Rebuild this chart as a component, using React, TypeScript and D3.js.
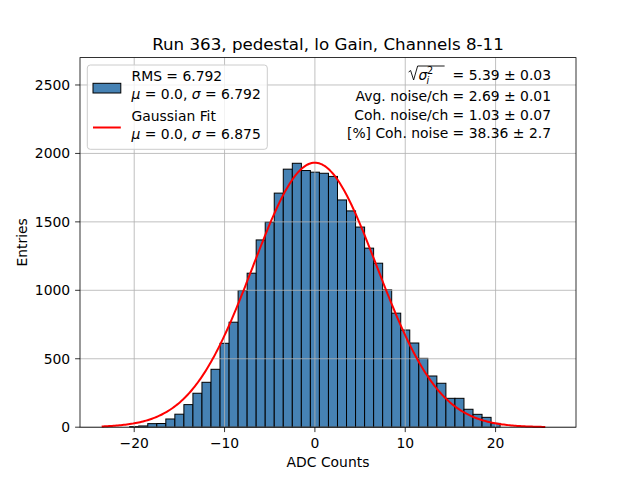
import React, { useEffect, useRef } from "react";
import * as d3 from "d3";

// Histogram bins (unit width, centred on integers) and counts
const binCenters = [
  -20, -19, -18, -17, -16, -15, -14, -13, -12, -11, -10, -9, -8, -7, -6, -5, -4,
  -3, -2, -1, 0, 1, 2, 3, 4, 5, 6, 7, 8, 9, 10, 11, 12, 13, 14, 15, 16, 17, 18,
  19, 20,
];
const binCounts = [
  5, 9, 26, 27, 60, 95, 165, 248, 328, 423, 613, 767, 998, 1125, 1368, 1498,
  1710, 1885, 1928, 1875, 1863, 1855, 1832, 1660, 1580, 1462, 1308, 1198, 1003,
  833, 710, 615, 503, 374, 321, 211, 211, 131, 94, 72, 28,
];
const binWidth = 1;

// Gaussian fit parameters
const fitMu = 0.0;
const fitSigma = 6.875;
const fitPeak = 1932;
const fitRange = [-23.6, 25.5];

const xTicks = [-20, -10, 0, 10, 20];
const yTicks = [0, 500, 1000, 1500, 2000, 2500];
const xDomain = [-26.0, 28.9];
const yDomain = [0, 2700];

const titleText = "Run 363, pedestal, lo Gain, Channels 8-11";
const statLines = [
  "Avg. noise/ch = 2.69 ± 0.01",
  "Coh. noise/ch = 1.03 ± 0.07",
  "[%] Coh. noise = 38.36 ± 2.7",
];

const W = 640;
const H = 480;
const margin = { top: 57.6, right: 64, bottom: 52.8, left: 80 };
const FONT = "DejaVu Sans, sans-serif";

const App: React.FC = () => {
  const svgRef = useRef<SVGSVGElement>(null);

  useEffect(() => {
    const svg = d3.select(svgRef.current);
    svg.selectAll("*").remove();

    const x = d3.scaleLinear().domain(xDomain).range([margin.left, W - margin.right]);
    const y = d3.scaleLinear().domain(yDomain).range([H - margin.bottom, margin.top]);

    svg.append("rect").attr("width", W).attr("height", H).attr("fill", "white");

    // bars
    svg
      .append("g")
      .selectAll("rect")
      .data(binCenters)
      .enter()
      .append("rect")
      .attr("x", (d) => x(d - binWidth / 2))
      .attr("y", (_, i) => y(binCounts[i]))
      .attr("width", (d) => x(d + binWidth / 2) - x(d - binWidth / 2))
      .attr("height", (_, i) => y(0) - y(binCounts[i]))
      .attr("fill", "#4682b4")
      .attr("stroke", "black")
      .attr("stroke-width", 1);

    // grid
    const grid = svg.append("g").attr("stroke", "#b0b0b0").attr("stroke-width", 0.8);
    xTicks.forEach((t) => {
      grid.append("line").attr("x1", x(t)).attr("x2", x(t)).attr("y1", y.range()[0]).attr("y2", y.range()[1]);
    });
    yTicks.forEach((t) => {
      grid.append("line").attr("y1", y(t)).attr("y2", y(t)).attr("x1", x.range()[0]).attr("x2", x.range()[1]);
    });

    // gaussian fit curve
    const pts = d3.range(0, 301).map((k) => {
      const xv = fitRange[0] + ((fitRange[1] - fitRange[0]) * k) / 300;
      return [xv, fitPeak * Math.exp(-((xv - fitMu) ** 2) / (2 * fitSigma * fitSigma))];
    });
    svg
      .append("path")
      .datum(pts)
      .attr("fill", "none")
      .attr("stroke", "red")
      .attr("stroke-width", 2)
      .attr("d", d3.line<number[]>().x((d) => x(d[0])).y((d) => y(d[1])));

    // spines
    svg
      .append("rect")
      .attr("x", margin.left)
      .attr("y", margin.top)
      .attr("width", W - margin.left - margin.right)
      .attr("height", H - margin.top - margin.bottom)
      .attr("fill", "none")
      .attr("stroke", "black")
      .attr("stroke-width", 0.8);

    // x axis ticks
    const xa = svg.append("g").attr("font-family", FONT).attr("font-size", 13.9);
    xTicks.forEach((t) => {
      xa.append("line").attr("x1", x(t)).attr("x2", x(t)).attr("y1", y(0)).attr("y2", y(0) + 4.9).attr("stroke", "black").attr("stroke-width", 0.8);
      xa.append("text").attr("x", x(t)).attr("y", y(0) + 20.5).attr("text-anchor", "middle").text(String(t).replace("-", "\u2212"));
    });
    const ya = svg.append("g").attr("font-family", FONT).attr("font-size", 13.9);
    yTicks.forEach((t) => {
      ya.append("line").attr("x1", margin.left - 4.9).attr("x2", margin.left).attr("y1", y(t)).attr("y2", y(t)).attr("stroke", "black").attr("stroke-width", 0.8);
      ya.append("text").attr("x", margin.left - 9.8).attr("y", y(t) + 5).attr("text-anchor", "end").text(String(t));
    });

    // labels
    svg.append("text").attr("x", (margin.left + W - margin.right) / 2).attr("y", 467).attr("text-anchor", "middle").attr("font-family", FONT).attr("font-size", 13.9).text("ADC Counts");
    svg
      .append("text")
      .attr("transform", `translate(27,${(margin.top + H - margin.bottom) / 2}) rotate(-90)`)
      .attr("text-anchor", "middle")
      .attr("font-family", FONT)
      .attr("font-size", 13.9)
      .text("Entries");
    svg.append("text").attr("x", (margin.left + W - margin.right) / 2).attr("y", 49.5).attr("text-anchor", "middle").attr("font-family", FONT).attr("font-size", 16.7).text(titleText);

    // legend
    const lg = svg.append("g").attr("font-family", FONT).attr("font-size", 13.9);
    lg.append("rect").attr("x", 87.3).attr("y", 65).attr("width", 180).attr("height", 84.3).attr("rx", 3).attr("fill", "white").attr("fill-opacity", 0.8).attr("stroke", "#cccccc").attr("stroke-width", 1);
    lg.append("rect").attr("x", 93).attr("y", 83.3).attr("width", 27.8).attr("height", 9.7).attr("fill", "#4682b4").attr("stroke", "black").attr("stroke-width", 1);
    lg.append("line").attr("x1", 93).attr("x2", 120.8).attr("y1", 127.5).attr("y2", 127.5).attr("stroke", "red").attr("stroke-width", 2);
    const muSigma = (yy: number, sig: string) => {
      const t = lg.append("text").attr("x", 131.5).attr("y", yy);
      t.append("tspan").attr("font-style", "italic").text("μ");
      t.append("tspan").text(" = 0.0, ");
      t.append("tspan").attr("font-style", "italic").text("σ");
      t.append("tspan").text(" = " + sig);
    };
    lg.append("text").attr("x", 131.5).attr("y", 81).text("RMS = 6.792");
    muSigma(98.5, "6.792");
    lg.append("text").attr("x", 131.5).attr("y", 121).text("Gaussian Fit");
    muSigma(138.5, fitSigma.toFixed(3));

    // stats text
    const st = svg.append("g").attr("font-family", FONT).attr("font-size", 13.9);
    const first = st.append("text").attr("x", 551).attr("y", 80).attr("text-anchor", "end").text("= 5.39 ± 0.03");
    const w = (first.node() as SVGTextElement).getComputedTextLength();
    const startX = 551 - w - 4;
    // sqrt(sigma_i^2)
    const sx = startX - 40;
    st.append("path")
      .attr("d", `M${sx},72 L${sx + 2},70.5 L${sx + 5},80 L${sx + 9},66 L${startX - 4},66`)
      .attr("fill", "none")
      .attr("stroke", "black")
      .attr("stroke-width", 0.9);
    st.append("text").attr("x", sx + 10).attr("y", 80).attr("font-style", "italic").text("σ");
    st.append("text").attr("x", sx + 18).attr("y", 83.5).attr("font-style", "italic").attr("font-size", 9.7).text("i");
    st.append("text").attr("x", sx + 18.5).attr("y", 73.5).attr("font-size", 9.7).text("2");
    statLines.forEach((s, i) => {
      st.append("text").attr("x", 551).attr("y", [100.5, 119.5, 138][i]).attr("text-anchor", "end").text(s);
    });
  }, []);

  return (
    <svg
      ref={svgRef}
      width={W}
      height={H}
      style={{ position: "absolute", left: 0, top: 0, display: "block" }}
    ></svg>
  );
};

export default App;
